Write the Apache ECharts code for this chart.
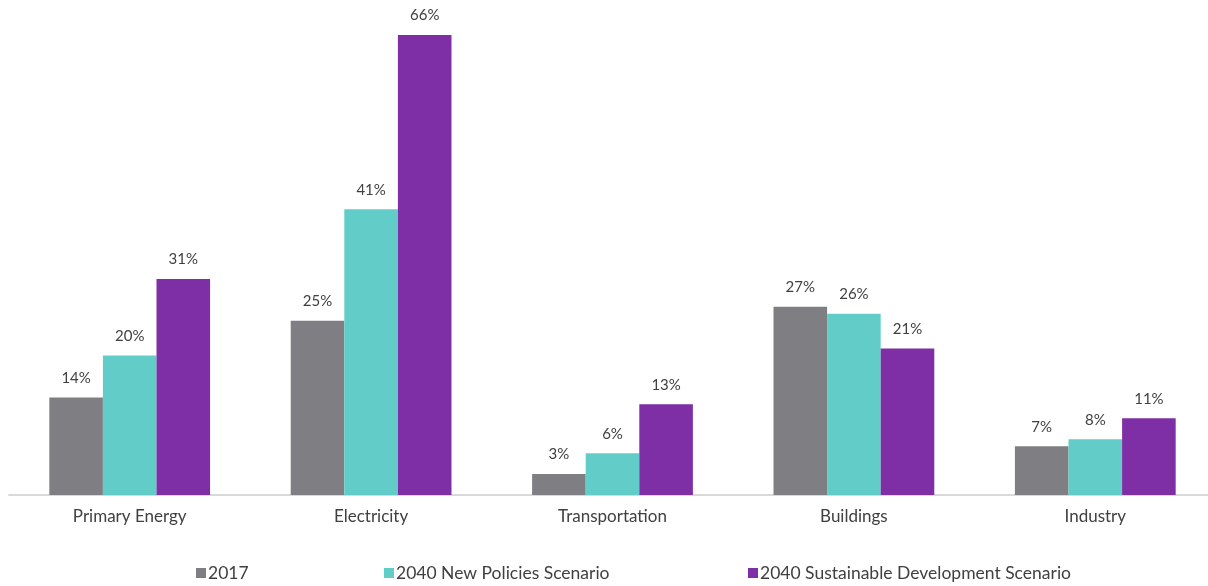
<!DOCTYPE html>
<html><head><meta charset="utf-8">
<script src="https://cdn.jsdelivr.net/npm/echarts@6/dist/echarts.min.js"></script>
<style>html,body{margin:0;padding:0;background:#fff}#c{width:1208px;height:586px}</style>
</head><body><div id="c"></div>
<script>
const categories = ['Primary Energy', 'Electricity', 'Transportation', 'Buildings', 'Industry'];
const seriesNames = ['2017', '2040 New Policies Scenario', '2040 Sustainable Development Scenario'];
const values2017 = [14, 25, 3, 27, 7];
const valuesNPS = [20, 41, 6, 26, 8];
const valuesSDS = [31, 66, 13, 21, 11];
const colors = ['#7F7F83', '#62CDC8', '#7E2FA5'];
const font = 'Lato, "Open Sans", sans-serif';
const dataSets = [values2017, valuesNPS, valuesSDS];
const chart = echarts.init(document.getElementById('c'), null, {renderer: 'canvas'});
const legendLefts = [191, 379, 743];
chart.setOption({
  animation: false,
  textStyle: {fontFamily: font},
  legend: seriesNames.map((n, i) => ({
    data: [n], left: legendLefts[i], top: 559, itemWidth: 10, itemHeight: 10, itemGap: 0,
    icon: 'rect', textStyle: {fontFamily: font, fontSize: 17.5, color: '#404040', padding: [0, 0, 0, -3]}
  })),
  grid: {left: 9, width: 1207, top: 7, bottom: 91, containLabel: false, outerBoundsMode: 'none'},
  xAxis: {
    type: 'category', data: categories,
    axisLine: {lineStyle: {color: '#D9D9D9', width: 2}},
    axisTick: {show: false},
    axisLabel: {fontFamily: font, fontSize: 17, color: '#404040', margin: 13}
  },
  yAxis: {type: 'value', min: 0, max: 70, show: false, splitLine: {show: false}},
  series: dataSets.map((d, i) => ({
    name: seriesNames[i], type: 'bar', data: d,
    barGap: '0%', barCategoryGap: '33.4%',
    itemStyle: {color: colors[i]},
    label: {show: true, position: 'top', distance: 12, formatter: '{c}%', fontFamily: font, fontSize: 15, color: '#404040'}
  }))
});
</script></body></html>
